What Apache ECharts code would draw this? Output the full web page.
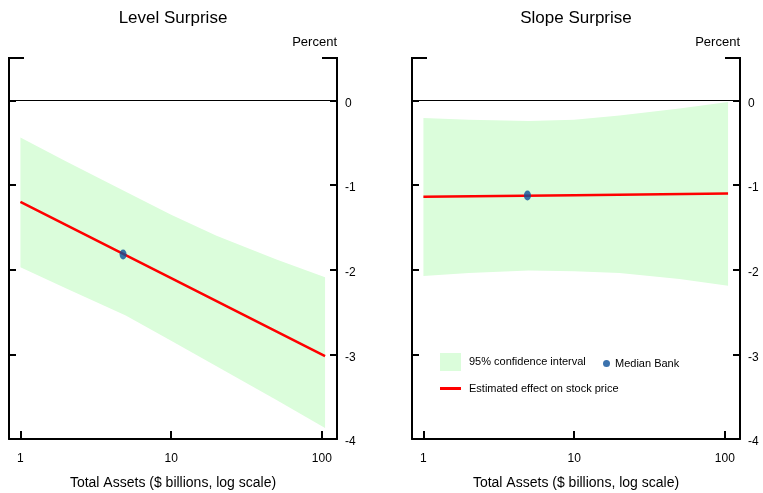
<!DOCTYPE html>
<html>
<head>
<meta charset="utf-8">
<title>Level and Slope Surprise</title>
<script src="https://cdn.jsdelivr.net/npm/echarts@6/dist/echarts.min.js"></script>
<style>
html, body { margin: 0; padding: 0; background: #fff; }
#main { width: 763px; height: 493px; }
</style>
</head>
<body>
<div id="main"></div>
<script>
// total assets ($ billions) at which the band edges were read
var bandX = [1, 2, 5, 10, 20, 50, 105];
var levelUpper = [-0.44, -0.72, -1.08, -1.35, -1.60, -1.88, -2.09];
var levelLower = [-1.97, -2.22, -2.54, -2.84, -3.14, -3.54, -3.87];
var slopeUpper = [-0.21, -0.23, -0.245, -0.23, -0.18, -0.095, -0.02];
var slopeLower = [-2.075, -2.04, -2.01, -2.02, -2.04, -2.11, -2.19];

// estimated effect on stock price
var lineX = [1, 10, 105];
var levelLine = [-1.2, -2.1, -3.02];
var slopeLine = [-1.14, -1.12, -1.10];

// median bank [assets, effect]
var levelMedian = [4.8, -1.82];
var slopeMedian = [4.9, -1.125];

var panelTitles = ['Level Surprise', 'Slope Surprise'];
var yTicks = [-4, -3, -2, -1, 0];

var FONT = '"Liberation Sans", Arial, sans-serif';
var GREEN = '#dbfddb';
var RED = '#ff0000';
var BLUE = '#0b4f99';
var ELLIPSE = 'path://M5,0A5,5,0,1,1,5,10A5,5,0,1,1,5,0Z';

var chart = echarts.init(document.getElementById('main'));

// pixel frames of the two panels
var frames = [
    {left: 9, right: 337},
    {left: 412, right: 740}
];
var TOP = 58, BOTTOM = 439;

var grids = [], xAxes = [], yAxes = [], series = [], titles = [], stubs = [];

function pairs(xs, ys) {
    var out = [];
    for (var i = 0; i < xs.length; i++) out.push([xs[i], ys[i]]);
    return out;
}

function addPanel(i, upper, lower, line, median) {
    var f = frames[i];
    grids.push({left: f.left, right: 763 - f.right, top: TOP, bottom: 493 - BOTTOM,
        containLabel: false, outerBoundsMode: 'none'});

    xAxes.push({
        gridIndex: i, type: 'log', logBase: 10, min: 0.84, max: 126,
        name: 'Total Assets ($ billions, log scale)',
        nameLocation: 'middle', nameGap: 37,
        nameTextStyle: {color: '#000', fontFamily: FONT, fontSize: 14},
        axisLine: {show: true, onZero: false, lineStyle: {color: '#000', width: 2}},
        axisTick: {show: true, inside: true, length: 8, lineStyle: {color: '#000', width: 2}},
        axisLabel: {color: '#000', fontFamily: FONT, fontSize: 12, margin: 14,
            showMinLabel: false, showMaxLabel: false},
        splitLine: {show: false}, minorTick: {show: false}
    });

    var yBase = {
        gridIndex: i, type: 'value', min: yTicks[0], max: 0.5, interval: 1,
        axisLine: {show: true, onZero: false, lineStyle: {color: '#000', width: 2}},
        axisTick: {show: true, inside: true, length: 7, lineStyle: {color: '#000', width: 2}},
        splitLine: {show: false}
    };
    yAxes.push(Object.assign({}, yBase, {
        position: 'right',
        axisLabel: {color: '#000', fontFamily: FONT, fontSize: 12, margin: 8,
            verticalAlign: 'top', lineHeight: 6, showMaxLabel: false}
    }));
    yAxes.push(Object.assign({}, yBase, {position: 'left', axisLabel: {show: false}}));

    var yIdx = i * 2;

    // confidence band as one polygon through the axis scales
    series.push({
        type: 'custom', name: '95% confidence interval', xAxisIndex: i, yAxisIndex: yIdx,
        data: [[bandX[0], upper[0]]],
        itemStyle: {color: GREEN}, silent: true, z: 1,
        renderItem: function (params, api) {
            var pts = [];
            for (var k = 0; k < bandX.length; k++) pts.push(api.coord([bandX[k], upper[k]]));
            for (var k = bandX.length - 1; k >= 0; k--) pts.push(api.coord([bandX[k], lower[k]]));
            return {type: 'polygon', shape: {points: pts}, style: {fill: GREEN}};
        }
    });
    series.push({
        type: 'line', name: 'Estimated effect on stock price', xAxisIndex: i, yAxisIndex: yIdx,
        data: pairs(lineX, line), symbol: 'none', silent: true,
        itemStyle: {color: RED}, lineStyle: {color: RED, width: 2.5}, z: 3,
        markLine: {
            silent: true, symbol: 'none', label: {show: false},
            lineStyle: {color: '#000', width: 1, type: 'solid'},
            data: [{yAxis: 0}]
        }
    });
    series.push({
        type: 'scatter', name: 'Median Bank', xAxisIndex: i, yAxisIndex: yIdx,
        data: [median], symbol: ELLIPSE, symbolSize: [7, 10],
        itemStyle: {color: BLUE}, silent: true, z: 5
    });

    titles.push({
        text: panelTitles[i], left: (f.left + f.right) / 2, top: 10, textAlign: 'center', padding: 0,
        textStyle: {color: '#000', fontFamily: FONT, fontSize: 17, fontWeight: 'normal'}
    });
    titles.push({
        text: 'Percent', left: f.right, top: 36, textAlign: 'right', padding: 0,
        textStyle: {color: '#000', fontFamily: FONT, fontSize: 13, fontWeight: 'normal'}
    });

    // short top corners of the frame
    stubs.push({type: 'line', shape: {x1: f.left - 1, y1: TOP, x2: f.left + 15, y2: TOP},
        style: {stroke: '#000', lineWidth: 2}});
    stubs.push({type: 'line', shape: {x1: f.right - 15, y1: TOP, x2: f.right + 1, y2: TOP},
        style: {stroke: '#000', lineWidth: 2}});
}

addPanel(0, levelUpper, levelLower, levelLine, levelMedian);
addPanel(1, slopeUpper, slopeLower, slopeLine, slopeMedian);

var legendText = {color: '#000', fontFamily: FONT, fontSize: 11, padding: [0, 0, 0, 3]};

var option = {
    animation: false,
    backgroundColor: '#fff',
    title: titles,
    grid: grids,
    xAxis: xAxes,
    yAxis: yAxes,
    legend: [
        {left: 440, top: 353, padding: 0, itemWidth: 21, itemHeight: 18, icon: 'rect',
            data: ['95% confidence interval'], textStyle: legendText, selectedMode: false},
        {left: 603, top: 358, padding: 0, itemWidth: 7, itemHeight: 10, icon: ELLIPSE,
            data: ['Median Bank'], textStyle: Object.assign({}, legendText, {padding: 0}),
            selectedMode: false},
        {left: 440, top: 383, padding: 0, itemWidth: 21, itemHeight: 14,
            data: [{name: 'Estimated effect on stock price', icon: 'path://M0,5.5H21V8.5H0Z'}],
            textStyle: legendText, selectedMode: false}
    ],
    graphic: stubs,
    series: series
};

chart.setOption(option);
</script>
</body>
</html>
